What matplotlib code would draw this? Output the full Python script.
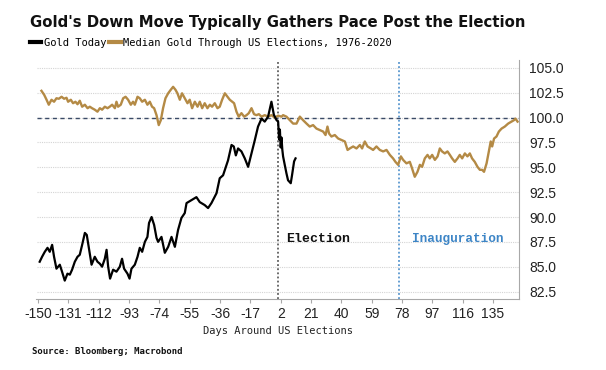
import matplotlib
matplotlib.use("Agg")
import matplotlib.pyplot as plt
from matplotlib.lines import Line2D

# ---------------- data ----------------
today_days = [-149, -147.5, -145.8, -144.1, -142.7, -141.2, -140.0, -138.5, -136.4, -135.0,
              -133.3, -131.6, -130.1, -128.7, -127.0, -125.3, -123.9, -122.4, -120.7, -119.5,
              -118.2, -116.5, -114.5, -112.8, -111.3, -109.9, -108.2, -107.1, -106.1, -104.9,
              -103.0, -100.9, -98.8, -97.4, -96.1, -94.0, -92.7, -91.5, -89.4, -87.7,
              -86.3, -84.8, -83.1, -81.5, -80.5, -78.9, -77.3, -75.8, -74.8, -72.7,
              -70.6, -68.5, -66.4, -64.3, -62.3, -60.2, -58.1, -57.0, -53.9, -50.8,
              -48.7, -45.6, -43.5, -41.4, -38.2, -36.2, -34.1, -31.0, -28.8, -27.4,
              -26.1, -24.7, -22.6, -20.5, -18.4, -16.3, -14.2, -12.2, -10.0, -8.0,
              -5.9, -3.8, -2.3, -0.6, 0.4, 1.0, 1.5, 2.0, 2.5, 3.0,
              3.5, 4.6, 5.6, 6.6, 8.3, 9.1, 10.4, 11.3]
today_vals = [85.5, 86.0, 86.5, 86.9, 86.5, 87.2, 86.0, 84.8, 85.2, 84.5,
              83.6, 84.3, 84.2, 84.7, 85.5, 86.0, 86.2, 87.2, 88.4, 88.2,
              86.9, 85.2, 86.0, 85.5, 85.3, 85.0, 85.8, 86.7, 85.0, 83.8,
              84.7, 84.5, 85.0, 85.8, 84.8, 84.3, 83.8, 84.8, 85.2, 86.0,
              86.9, 86.5, 87.5, 88.0, 89.4, 90.0, 89.2, 87.9, 87.5, 88.0,
              86.4, 87.0, 88.0, 87.0, 88.7, 89.9, 90.4, 91.4, 91.7, 92.0,
              91.5, 91.2, 90.9, 91.4, 92.4, 93.9, 94.2, 95.7, 97.25, 97.1,
              96.2, 96.9, 96.6, 95.9, 95.05, 96.4, 97.75, 99.1, 99.9, 99.6,
              100.1, 101.6, 100.3, 99.75, 99.6, 97.8, 98.8, 97.0, 98.0, 96.8,
              96.1, 95.2, 94.4, 93.7, 93.4, 94.2, 95.6, 95.9]

median_days = [-147.9, -146.2, -144.7, -143.3, -141.6, -140.0, -138.5, -137.0, -135.3, -133.7,
               -132.2, -131.2, -129.5, -128.1, -126.6, -125.3, -123.9, -122.4, -120.7, -119.0,
               -117.6, -116.2, -114.5, -112.8, -111.3, -109.9, -108.2, -106.5, -105.1, -103.6,
               -101.9, -100.9, -99.9, -98.2, -96.7, -95.2, -93.6, -91.9, -90.5, -89.4,
               -87.7, -86.3, -84.8, -83.1, -81.5, -80.0, -78.6, -77.3, -75.8, -74.4,
               -73.1, -71.7, -70.2, -68.5, -66.9, -65.4, -63.9, -62.7, -61.2, -59.8,
               -58.1, -56.4, -55.0, -53.5, -51.8, -50.1, -48.7, -47.2, -45.6, -43.9,
               -42.4, -41.0, -39.3, -37.6, -36.2, -34.7, -33.0, -31.3, -29.9, -28.4,
               -27.2, -25.7, -24.3, -22.6, -20.9, -19.4, -18.0, -16.3, -14.7, -13.2,
               -11.7, -10.0, -8.0, -5.9, -3.8, -1.7, 0.4, 2.5, 3.5, 5.6,
               7.7, 9.8, 11.9, 14.0, 16.0, 18.2, 20.2, 22.3, 24.4, 26.5,
               28.6, 30.1, 31.3, 32.3, 33.8, 35.9, 38.0, 40.1, 42.2, 43.9,
               45.3, 47.4, 49.5, 51.6, 53.0, 54.7, 56.4, 58.5, 59.9, 62.0,
               64.1, 66.2, 68.3, 70.4, 72.4, 73.9, 75.6, 77.3, 78.7, 80.8,
               82.9, 84.3, 86.0, 87.7, 89.2, 90.6, 92.3, 94.0, 95.4, 96.9,
               98.6, 100.3, 101.7, 103.1, 104.8, 106.5, 108.0, 109.4, 111.1, 112.8,
               114.2, 115.7, 117.4, 119.0, 120.5, 121.9, 123.6, 125.3, 126.8, 128.2,
               129.4, 131.0, 132.4, 133.6, 134.5, 135.7, 137.2, 138.7, 140.4, 142.4,
               144.5, 146.6, 148.2, 149.1, 150.4]
median_vals = [102.7, 102.3, 101.8, 101.3, 101.8, 101.6, 101.95, 101.9, 102.1, 101.9,
               102.0, 101.6, 101.8, 101.45, 101.6, 101.35, 101.7, 101.1, 101.3, 100.95,
               101.1, 100.95, 100.8, 100.6, 100.95, 100.8, 101.1, 100.95, 101.1, 101.3,
               100.95, 101.6, 101.1, 101.3, 101.95, 102.1, 101.8, 101.3, 101.6, 101.3,
               102.1, 101.95, 101.6, 101.8, 101.3, 101.6, 101.1, 100.95, 100.25, 99.25,
               99.75, 100.95, 101.95, 102.45, 102.8, 103.1, 102.8, 102.45, 101.8, 102.45,
               101.95, 101.45, 101.8, 100.95, 101.6, 101.1, 101.6, 100.95, 101.45, 100.95,
               101.3, 101.1, 101.45, 100.95, 101.1, 101.8, 102.45, 102.1, 101.8, 101.6,
               101.45, 100.6, 100.1, 100.45, 100.1, 100.25, 100.45, 100.95, 100.35, 100.25,
               100.35, 100.1, 100.25, 100.1, 100.25, 100.0, 100.2, 100.1, 100.25, 100.1,
               99.75, 99.4, 99.4, 100.1, 99.75, 99.4, 99.1, 99.25, 98.9, 98.75,
               98.6, 98.25, 99.1, 98.4, 98.1, 98.25, 97.9, 97.75, 97.6, 96.75,
               96.9, 97.1, 96.9, 97.25, 96.9, 97.6, 97.1, 96.9, 96.75, 97.1,
               96.75, 96.6, 96.75, 96.25, 95.9, 95.55, 95.25, 96.1, 95.75, 95.4,
               95.55, 94.9, 94.05, 94.55, 95.25, 95.05, 95.9, 96.25, 95.9, 96.25,
               95.75, 96.1, 96.9, 96.6, 96.4, 96.6, 96.25, 95.9, 95.55, 95.9,
               96.25, 95.9, 96.4, 96.1, 96.4, 95.9, 95.55, 95.05, 94.75, 94.75,
               94.55, 95.4, 96.6, 97.6, 97.1, 97.9, 98.1, 98.6, 98.9, 99.1,
               99.4, 99.6, 99.75, 99.9, 99.6]

x_ticks = [-150, -131, -112, -93, -74, -55, -36, -17, 2, 21, 40, 59, 78, 97, 116, 135]
y_ticks = [82.5, 85.0, 87.5, 90.0, 92.5, 95.0, 97.5, 100.0, 102.5, 105.0]
election_day = 0
inauguration_day = 76
baseline = 100.0

title = "Gold's Down Move Typically Gathers Pace Post the Election"
label_today = "Gold Today"
label_median = "Median Gold Through US Elections, 1976-2020"
x_label = "Days Around US Elections"
source = "Source: Bloomberg; Macrobond"

# ---------------- style ----------------
GOLD = "#b48a45"
BLUE = "#3d85c6"
GRID = "#d4d4d4"
SPINE = "#a8a8a8"

fig = plt.figure(figsize=(6.06, 3.70), dpi=100)
ax = fig.add_axes([36.5 / 606, 1 - 299 / 370, (519.3 - 36.5) / 606, (299 - 60) / 370])

ax.set_xlim(-151, 151.5)
ax.set_ylim(81.75, 105.8)

for v in y_ticks:
    ax.axhline(v, color=GRID, lw=0.8, ls=(0, (1, 1)), zorder=0)

ax.axhline(baseline, color="#3a4a66", lw=1.0, ls=(0, (3, 2.5)), zorder=1)
ax.axvline(election_day, color="#444444", lw=1.1, ls=(0, (1.2, 1.5)), zorder=1)
ax.axvline(inauguration_day, color=BLUE, lw=1.1, ls=(0, (1.2, 1.5)), zorder=1)

ax.plot(median_days, median_vals, color=GOLD, lw=1.7, zorder=3, solid_joinstyle="round")
ax.plot(today_days, today_vals, color="black", lw=1.6, zorder=4, solid_joinstyle="round")

ax.text(5.5, 87.75, "Election", family="Liberation Mono", weight="bold", fontsize=9.5,
        color="#111111", va="center", ha="left")
ax.text(84, 87.75, "Inauguration", family="Liberation Mono", weight="bold", fontsize=9.2,
        color=BLUE, va="center", ha="left")

# axes / ticks
for s in ["top", "left"]:
    ax.spines[s].set_visible(False)
ax.spines["bottom"].set_color(SPINE)
ax.spines["right"].set_color(SPINE)
ax.spines["bottom"].set_linewidth(0.8)
ax.spines["right"].set_linewidth(0.8)

ax.yaxis.tick_right()
ax.set_yticks(y_ticks)
ax.set_yticklabels([f"{v:.1f}" for v in y_ticks])
ax.set_xticks(x_ticks)
ax.set_xticklabels([str(v) for v in x_ticks])
ax.tick_params(axis="y", length=0, pad=7, labelsize=10, labelcolor="#222222")
ax.tick_params(axis="x", length=3, width=0.8, color=SPINE, pad=3, labelsize=10,
               labelcolor="#222222")
for lab in ax.get_xticklabels() + ax.get_yticklabels():
    lab.set_family("Liberation Sans")

ax.set_xlabel(x_label, family="DejaVu Sans Mono", fontsize=7.5, color="#222222", labelpad=3)

# title / legend / source
fig.text(30 / 606, 1 - 22 / 370, title, family="DejaVu Sans", weight="bold", fontsize=10.7,
         ha="left", va="center", color="#111111")

handles = [Line2D([], [], color="black", lw=3),
           Line2D([], [], color=GOLD, lw=3)]
fig.legend(handles, [label_today, label_median], loc="center left",
           bbox_to_anchor=(30 / 606, 1 - 43 / 370), ncol=2, frameon=False,
           prop={"family": "DejaVu Sans Mono", "size": 7.5},
           handlelength=1.1, handletextpad=0.2, columnspacing=0.3, borderpad=0,
           borderaxespad=0)

fig.text(32 / 606, 1 - 351 / 370, source, family="DejaVu Sans Mono", weight="bold",
         fontsize=6.5, ha="left", va="center", color="#111111")

fig.savefig("out.png", dpi=100, facecolor="white")
